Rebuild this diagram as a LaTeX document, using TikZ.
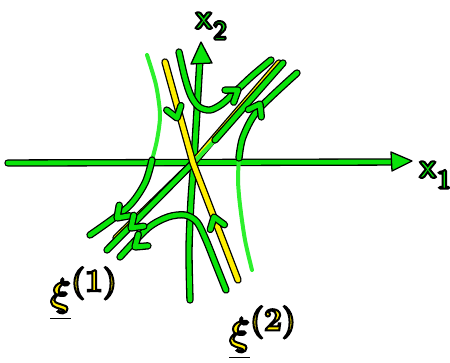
\documentclass[tikz,border=0pt]{standalone}
\usepackage{amsmath,amssymb}
\usepackage{xcolor}
\usepackage{tikz}
\usetikzlibrary{calc}
\definecolor{trajgreen}{RGB}{10,228,10}
\definecolor{lightgreen}{RGB}{45,240,45}
\definecolor{eigyellow}{RGB}{255,238,0}

% hand drawn barb: tip, point behind the tip
\newcommand{\barb}[2]{%
  \draw[ink] ($(#1)!13pt!35:(#2)$) -- (#1) -- ($(#1)!13pt!-35:(#2)$);}
% text filled in colour and stroked in black
\newcommand{\inked}[2][2]{\special{pdf:literal direct 2 Tr #1 w 0 0 0 RG}#2\special{pdf:literal direct 0 Tr}}

\begin{document}
\begin{tikzpicture}[x=1pt,y=-1pt,
  ink/.style={draw=black,line width=7.4pt,line cap=round,line join=round,
    postaction={draw=trajgreen,line width=4.8pt}},
  faint/.style={draw=lightgreen,line width=4pt,line cap=round,line join=round},
  eig/.style={draw=black,line width=7.4pt,line cap=round,line join=round,
    postaction={draw=eigyellow,line width=4.8pt}},
  tip/.style={fill=trajgreen,draw=black,line width=1.3pt,line join=round},
  axlbl/.style={inner sep=0pt,text=trajgreen,font=\fontsize{36}{36}\selectfont\sffamily\bfseries},
  eiglbl/.style={inner sep=0pt,text=eigyellow,font=\Huge\boldmath}
]
\useasboundingbox (0,0) rectangle (450,362);

% axes
\coordinate (o) at (193,163);
\draw[ink] (8,163) -- (395,162);
\draw[tip] (391,152) -- (412,161) -- (392,171) -- cycle;
\node[axlbl] (x1) at (435,175) {\inked{x\raisebox{-0.3em}{\fontsize{26}{26}\selectfont 1}}};
\draw[ink] plot[smooth] coordinates {(190,300) (189,250) (191,200) (194,160) (197,110) (200,58)};
\draw[tip] (191,64) -- (201,42) -- (212,63) -- cycle;
\node[axlbl] (x2) at (211,26) {\inked{x\raisebox{-0.3em}{\fontsize{26}{26}\selectfont 2}}};

% eigenvector xi(1)
\draw[eig] (116,238) -- (o) -- (279,63);

% trajectories
\draw[ink] (107,250) -- (o);
\draw[faint] (o) -- (215,140);
\draw[ink] (215,140) -- (283,63);
\draw[ink] plot[smooth] coordinates {(179,52) (185,78) (191,96) (199,107) (210,110) (222,104) (235,92) (252,76) (271,60)};
\draw[ink] plot[smooth] coordinates {(226,290) (216,265) (206,240) (197,222) (185,215) (168,217) (148,228) (120,257)};
\draw[faint] plot[smooth] coordinates {(147,55) (156,85) (160,115) (157,140) (152,160)};
\draw[ink] plot[smooth] coordinates {(152,160) (145,183) (128,207) (90,235)};
\draw[faint] plot[smooth] coordinates {(252,270) (245,240) (240,205) (238,180) (239,158)};
\draw[ink] plot[smooth] coordinates {(239,158) (243,137) (258,110) (297,73)};

% eigenvector xi(2)
\draw[eig] (165,62) -- (o) -- (238,280);

% direction marks
\coordinate (a1) at (238,90);  \coordinate (b1) at (224,100);
\coordinate (a2) at (260,104); \coordinate (b2) at (251,120);
\coordinate (a3) at (117,218); \coordinate (b3) at (130,205);
\coordinate (a4) at (131,228); \coordinate (b4) at (145,215);
\coordinate (a5) at (135,247); \coordinate (b5) at (148,236);
\coordinate (a6) at (177,118); \coordinate (b6) at (172,102);
\coordinate (a7) at (214,217); \coordinate (b7) at (219,232);
\barb{a1}{b1}
\barb{a2}{b2}
\barb{a3}{b3}
\barb{a4}{b4}
\barb{a5}{b5}
\barb{a6}{b6}
\barb{a7}{b7}

% labels
\node[eiglbl] (xi1) at (84,294) {\scalebox{1.55}{\inked[1.3]{$\underline{\xi}^{(1)}$}}};
\node[eiglbl] (xi2) at (263,333) {\scalebox{1.55}{\inked[1.3]{$\underline{\xi}^{(2)}$}}};
\end{tikzpicture}
\end{document}
